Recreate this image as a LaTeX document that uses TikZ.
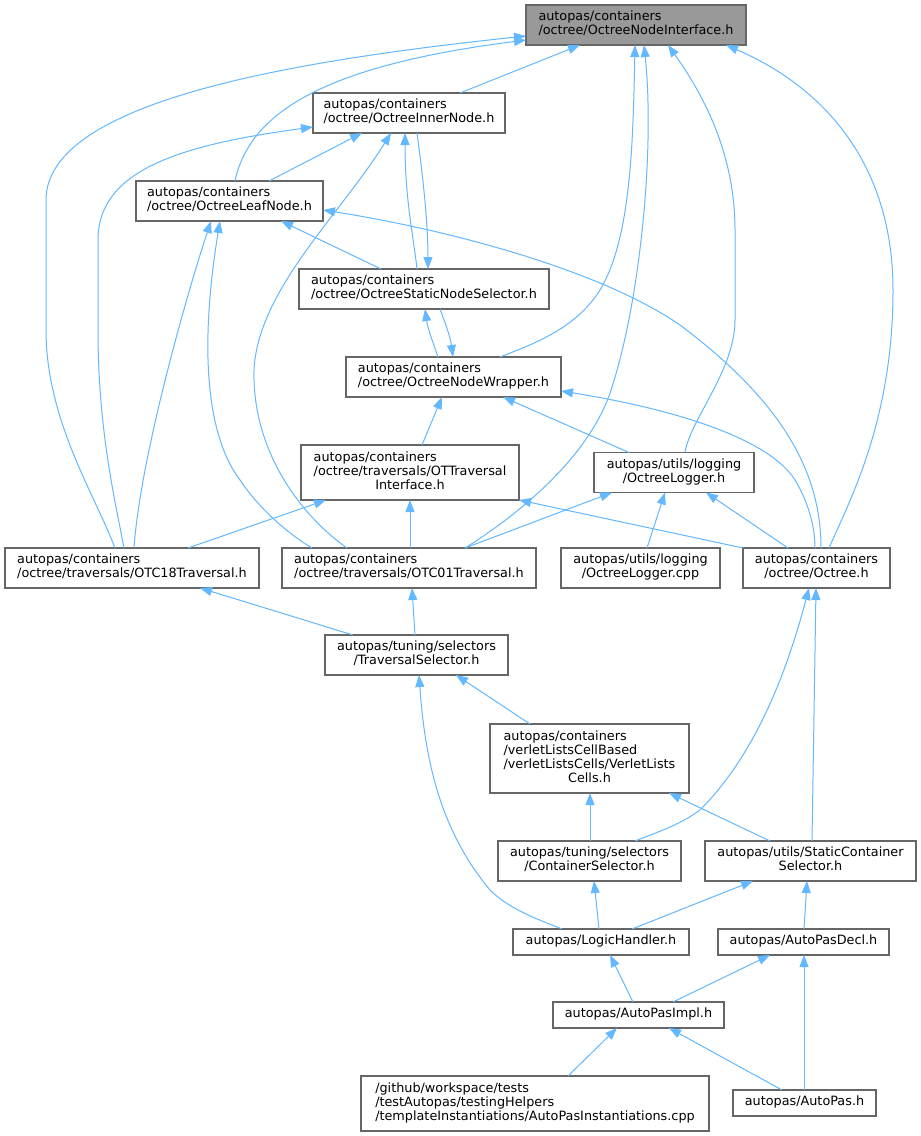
\documentclass[tikz,border=0pt]{standalone}
\usepackage{fontspec}
\setmainfont{DejaVu Sans}
\usetikzlibrary{arrows.meta}
\definecolor{edgec}{HTML}{63B8FF}
\definecolor{bordc}{HTML}{666666}
\definecolor{hlfill}{HTML}{999999}
\newcommand{\ml}[2]{\begin{tabular}{@{}l@{}}#1\\\multicolumn{1}{@{}c@{}}{#2}\end{tabular}}
\newcommand{\oneline}[1]{\begin{tabular}{@{}c@{}}#1\end{tabular}}
\begin{document}
\begin{tikzpicture}[x=1pt,y=-1pt,
  box/.style={draw=bordc, line width=1.2pt, fill=white, inner sep=0pt, outer sep=0pt,
    font=\fontsize{12.8}{14}\selectfont, text=black},
  edge/.style={draw=edgec, line width=1pt, {Triangle[length=12pt,width=9pt,fill=edgec]}-}]
\useasboundingbox[fill=white] (0,0) rectangle (921,1136);

\node[box, fill=hlfill, minimum width=220pt, minimum height=40pt] (iface) at (636,25) {\ml{autopas/containers}{/octree/OctreeNodeInterface.h}};
\node[box, minimum width=192pt, minimum height=40pt] (inner) at (409,113) {\ml{autopas/containers}{/octree/OctreeInnerNode.h}};
\node[box, minimum width=187pt, minimum height=40pt] (leaf) at (229.5,201) {\ml{autopas/containers}{/octree/OctreeLeafNode.h}};
\node[box, minimum width=250pt, minimum height=40pt] (static) at (424,289) {\ml{autopas/containers}{/octree/OctreeStaticNodeSelector.h}};
\node[box, minimum width=215pt, minimum height=40pt] (wrapper) at (453.5,377) {\ml{autopas/containers}{/octree/OctreeNodeWrapper.h}};
\node[box, minimum width=218pt, minimum height=55pt] (otif) at (410,472.5) {\ml{autopas/containers\\/octree/traversals/OTTraversal}{Interface.h}};
\node[box, minimum width=160pt, minimum height=40pt] (logger) at (674,472.5) {\ml{autopas/utils/logging}{/OctreeLogger.h}};
\node[box, minimum width=254pt, minimum height=40pt] (otc18) at (132,568) {\ml{autopas/containers}{/octree/traversals/OTC18Traversal.h}};
\node[box, minimum width=254pt, minimum height=40pt] (otc01) at (409,568) {\ml{autopas/containers}{/octree/traversals/OTC01Traversal.h}};
\node[box, minimum width=159pt, minimum height=40pt] (lcpp) at (640.5,568) {\ml{autopas/utils/logging}{/OctreeLogger.cpp}};
\node[box, minimum width=147pt, minimum height=40pt] (octree) at (816.5,568) {\ml{autopas/containers}{/octree/Octree.h}};
\node[box, minimum width=183pt, minimum height=40pt] (travsel) at (416.5,655) {\ml{autopas/tuning/selectors}{/TraversalSelector.h}};
\node[box, minimum width=199pt, minimum height=69pt] (verlet) at (589.5,758.5) {\ml{autopas/containers\\/verletListsCellBased\\/verletListsCells/VerletLists}{Cells.h}};
\node[box, minimum width=183pt, minimum height=40pt] (csel) at (589.5,861) {\ml{autopas/tuning/selectors}{/ContainerSelector.h}};
\node[box, minimum width=211pt, minimum height=40pt] (scsel) at (810.5,861) {\ml{autopas/utils/StaticContainer}{Selector.h}};
\node[box, minimum width=176pt, minimum height=26pt] (logic) at (601,942) {\oneline{autopas/LogicHandler.h}};
\node[box, minimum width=171pt, minimum height=26pt] (decl) at (803.5,942) {\oneline{autopas/AutoPasDecl.h}};
\node[box, minimum width=171pt, minimum height=26pt] (impl) at (638.5,1015) {\oneline{autopas/AutoPasImpl.h}};
\node[box, minimum width=348pt, minimum height=55pt] (inst) at (535,1103.5) {\ml{/github/workspace/tests\\/testAutopas/testingHelpers}{/templateInstantiations/AutoPasInstantiations.cpp}};
\node[box, minimum width=143pt, minimum height=26pt] (autopas) at (804.5,1103) {\oneline{autopas/AutoPas.h}};

% edges to OctreeNodeInterface
\draw[edge] ([xshift=-56pt]iface.south) -- ([xshift=51pt]inner.north);
\draw[edge] ([yshift=-15pt]iface.west) .. controls (330,65) and (250,110) .. ([xshift=5.5pt]leaf.north);
\draw[edge] ([yshift=-11pt]iface.west) .. controls (300,60) and (46,100) .. (46,200) -- (46,330) .. controls (46,420) and (95,495) .. ([xshift=-17pt]otc18.north);
\draw[edge] ([xshift=-1pt]iface.south) .. controls (633,150) and (630,240) .. (600,290) .. controls (575,330) and (530,345) .. ([xshift=46.5pt]wrapper.north);
\draw[edge] ([xshift=8pt]iface.south) .. controls (655,150) and (640,300) .. (612,387) .. controls (590,460) and (510,520) .. ([xshift=56pt]otc01.north);
\draw[edge] ([xshift=32pt]iface.south) .. controls (700,90) and (735,150) .. (735,230) -- (735,320) .. controls (735,370) and (690,420) .. ([xshift=11pt]logger.north);
\draw[edge] ([xshift=90pt]iface.south) .. controls (830,90) and (893,170) .. (893,290) .. controls (893,420) and (850,500) .. ([xshift=12.5pt]octree.north);

% edges to OctreeInnerNode
\draw[edge] ([xshift=-47pt]inner.south) -- ([xshift=39.5pt]leaf.north);
\draw[edge] ([yshift=-14pt]inner.west) .. controls (180,145) and (98,170) .. (98,240) -- (98,330) .. controls (98,430) and (115,500) .. ([xshift=-8pt]otc18.north);
\draw[edge] ([xshift=-4pt]inner.south) .. controls (405,200) and (414,240) .. ([xshift=-7pt]static.north);
\draw[edge] ([xshift=4pt]static.north) .. controls (428,220) and (422,170) .. ([xshift=8pt]inner.south);
\draw[edge] ([xshift=-18pt]inner.south) .. controls (340,215) and (258,290) .. (254,370) .. controls (252,450) and (300,515) .. ([xshift=-62pt]otc01.north);

% edges to OctreeLeafNode
\draw[edge] ([xshift=-18.5pt]leaf.south) .. controls (185,300) and (140,460) .. ([xshift=2pt]otc18.north);
\draw[edge] ([xshift=-9.5pt]leaf.south) .. controls (207,300) and (195,420) .. (240,480) .. controls (260,510) and (290,535) .. ([xshift=-97pt]otc01.north);
\draw[edge] ([xshift=51.5pt]leaf.south) -- ([xshift=-43pt]static.north);
\draw[edge] ([yshift=-9pt]leaf.east) .. controls (450,230) and (600,270) .. (680,325) .. controls (780,400) and (821,470) .. ([xshift=4.5pt]octree.north);

% static selector / wrapper
\draw[edge] ([xshift=1pt]static.south) .. controls (428,330) and (434,345) .. ([xshift=-15.5pt]wrapper.north);
\draw[edge] ([xshift=-0.5pt]wrapper.north) .. controls (450,335) and (444,320) .. ([xshift=16pt]static.south);

% edges to wrapper
\draw[edge] ([xshift=-11.5pt]wrapper.south) -- ([xshift=12pt]otif.north);
\draw[edge] ([xshift=49.5pt]wrapper.south) -- ([xshift=-45pt]logger.north);
\draw[edge] ([yshift=-14pt]wrapper.east) .. controls (680,410) and (770,440) .. (795,480) .. controls (810,505) and (815,530) .. ([xshift=-1.5pt]octree.north);

% edges to OTTraversalInterface
\draw[edge] ([xshift=-84pt]otif.south) -- ([xshift=56pt]otc18.north);
\draw[edge] (otif.south) -- ([xshift=1pt]otc01.north);
\draw[edge] (otif.south east) -- (octree.north west);

% edges to OctreeLogger.h
\draw[edge] ([xshift=-62pt]logger.south) -- ([xshift=56pt]otc01.north);
\draw[edge] ([xshift=-9pt]logger.south) -- ([xshift=6.5pt]lcpp.north);
\draw[edge] ([xshift=32pt]logger.south) -- ([xshift=-28.5pt]octree.north);

% traversals
\draw[edge] ([xshift=68pt]otc18.south) -- ([xshift=-63.5pt]travsel.north);
\draw[edge] ([xshift=3pt]otc01.south) -- ([xshift=-1.5pt]travsel.north);

% Octree.h
\draw[edge] ([xshift=-7.5pt]octree.south) .. controls (790,660) and (760,750) .. (700,810) .. controls (680,825) and (655,833) .. ([xshift=45.5pt]csel.north);
\draw[edge] ([xshift=-0.5pt]octree.south) -- ([xshift=1.5pt]scsel.north);

% TraversalSelector
\draw[edge] ([xshift=2.5pt]travsel.south) .. controls (425,760) and (440,830) .. (490,890) .. controls (510,910) and (540,920) .. ([xshift=-39pt]logic.north);
\draw[edge] ([xshift=39.5pt]travsel.south) -- ([xshift=-59.5pt]verlet.north);

% VerletListsCells
\draw[edge] ([xshift=0.5pt]verlet.south) -- ([xshift=0.5pt]csel.north);
\draw[edge] ([xshift=79.5pt]verlet.south) -- ([xshift=-40.5pt]scsel.north);

% selectors
\draw[edge] ([xshift=4.5pt]csel.south) -- ([xshift=-2pt]logic.north);
\draw[edge] ([xshift=-57.5pt]scsel.south) -- ([xshift=31pt]logic.north);
\draw[edge] ([xshift=-3.5pt]scsel.south) -- ([xshift=0.5pt]decl.north);

% LogicHandler / AutoPasDecl
\draw[edge] ([xshift=9pt]logic.south) -- ([xshift=-5.5pt]impl.north);
\draw[edge] ([xshift=-33.5pt]decl.south) -- ([xshift=34.5pt]impl.north);
\draw[edge] ([xshift=0.5pt]decl.south) -- ([xshift=-0.5pt]autopas.north);

% AutoPasImpl
\draw[edge] ([xshift=-21.5pt]impl.south) -- ([xshift=33pt]inst.north);
\draw[edge] ([xshift=30.5pt]impl.south) -- ([xshift=-22.5pt]autopas.north);
\end{tikzpicture}
\end{document}
